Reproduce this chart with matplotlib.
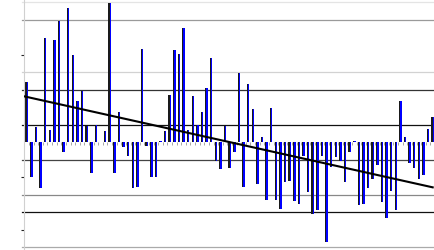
import numpy as np
import matplotlib
matplotlib.use("Agg")
import matplotlib.pyplot as plt

# bar values, one per period
values = [3.43, -2.00, 0.86, -2.63, 5.94, 0.69, 5.83, 6.91, -0.54, 7.66,
          5.01, 2.38, 2.95, 0.95, -1.77, 1.01, 0.00, 0.63, 7.94, -1.77,
          1.71, -0.29, -0.80, -2.63, -2.53, 5.33, -0.19, -2.00, -2.00, 0.10,
          0.63, 2.72, 5.27, 5.05, 6.53, 0.70, 2.63, 0.99, 1.75, 3.09,
          4.80, -1.05, -1.53, 0.91, -1.49, -0.57, 3.94, -2.53, 3.31, 1.90,
          -2.40, 0.32, -3.28, 1.96, -3.28, -3.81, -2.29, -2.21, -3.35, -3.53,
          -0.80, -2.82, -4.11, -3.89, -0.76, -5.71, -1.43, -0.82, -1.05, -2.29,
          -0.57, 0.10, -3.58, -3.50, -2.63, -2.10, -1.30, -3.39, -4.34, -2.76,
          -3.89, 2.34, 0.32, -1.18, -1.45, -2.10, -1.85, 0.76, 1.43]
x = np.arange(1, len(values) + 1)

# trend line end points
trend_x = [0.6, 89.0]
trend_y = [2.62, -2.57]

# horizontal reference lines and their shades
grid_levels = [8, 7, 4, 3, 1, -1, -3, -4, -6]
grid_colors = ["#e4e4e4", "#9a9a9a", "#d2d2d2", "#333333", "#111111",
               "#444444", "#888888", "#111111", "#aaaaaa"]
tick_levels = [5, -2, -5]

fig = plt.figure(figsize=(4.35, 2.51), dpi=100)
ax = fig.add_axes([24 / 435, 0, 1 - 24 / 435, 1])

for lev, col in zip(grid_levels, grid_colors):
    ax.axhline(lev, color=col, linewidth=0.9, zorder=1, clip_on=False,
               xmin=-0.004, xmax=1)

vals = np.array(values)
ax.bar(x - 0.13, vals, width=0.28, color="#1a1a1a", linewidth=0, zorder=2)
ax.bar(x + 0.12, vals, width=0.3, color="#0000ff", linewidth=0, zorder=3)

ax.plot(trend_x, trend_y, color="black", linewidth=1.5, zorder=4)

ax.set_xlim(0.415, 89.49)
ax.set_ylim(-6.15, 8.19)

for s in ["top", "right"]:
    ax.spines[s].set_visible(False)
ax.spines["left"].set_color("#d0d0d0")
ax.spines["left"].set_linewidth(0.8)
ax.spines["bottom"].set_position(("data", 0))
ax.spines["bottom"].set_linewidth(0)

ax.set_yticks(tick_levels)
ax.set_yticklabels([])
ax.tick_params(axis="y", length=2, width=0.8, color="#222222", direction="out")
ax.set_xticks(x + 0.5)
ax.set_xticklabels([])
ax.tick_params(axis="x", length=2, width=0.6, color="#999999", direction="out")

fig.savefig("out.png", dpi=100)
